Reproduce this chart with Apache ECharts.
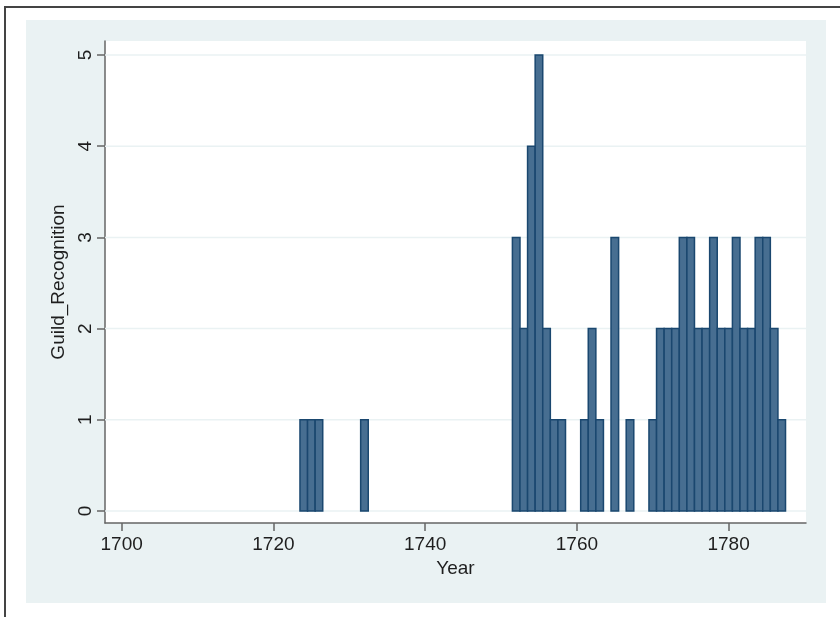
<!DOCTYPE html>
<html>
<head>
<meta charset="utf-8">
<script src="https://cdn.jsdelivr.net/npm/echarts@6/dist/echarts.min.js"></script>
<style>
html,body{margin:0;padding:0;background:#fff;}
#chart{width:840px;height:617px;}
</style>
</head>
<body>
<div id="chart"></div>
<script>
// Data
const years  = [1724,1725,1726,1732,1752,1753,1754,1755,1756,1757,1758,1761,1762,1763,1765,1767,
                1770,1771,1772,1773,1774,1775,1776,1777,1778,1779,1780,1781,1782,1783,1784,1785,1786,1787];
const values = [1,1,1,1,3,2,4,5,2,1,1,1,2,1,3,1,
                1,2,2,2,3,3,2,2,3,2,2,3,2,2,3,3,2,1];
const xTicks = [1700,1720,1740,1760,1780];
const yTicks = [0,1,2,3,4,5];

const FONT = 'Liberation Sans';
const TXT = '#1e1e1e';

const chart = echarts.init(document.getElementById('chart'), null, {renderer:'canvas'});
const data = years.map((y,i)=>[y, values[i]]);

chart.setOption({
  animation:false,
  backgroundColor:'#ffffff',
  graphic:[
    {type:'rect', left:26, top:20, shape:{width:800, height:583}, style:{fill:'#EAF2F3'}, z:-10, silent:true},
    {type:'line', shape:{x1:5, y1:7, x2:5, y2:617}, style:{stroke:'#444', lineWidth:2}, z:-5, silent:true},
    {type:'line', shape:{x1:4, y1:7, x2:840, y2:7}, style:{stroke:'#444', lineWidth:2}, z:-5, silent:true}
  ],
  grid:{left:105, right:34, top:41, bottom:94, show:true, backgroundColor:'#ffffff', borderWidth:0, containLabel:false},
  xAxis:{
    type:'value', min:1697.8, max:1790.2,
    name:'Year', nameLocation:'middle', nameGap:33,
    nameTextStyle:{fontFamily:FONT, fontSize:19, color:TXT},
    axisLine:{show:true, onZero:false, lineStyle:{color:'#666', width:1.5}},
    axisTick:{show:true, length:8, customValues:xTicks, lineStyle:{color:'#666', width:1.5}},
    axisLabel:{customValues:xTicks, formatter:v=>String(v), fontFamily:FONT, fontSize:19, color:TXT, margin:12},
    splitLine:{show:false}
  },
  yAxis:{
    type:'value', min:-0.132, max:5.154,
    name:'Guild_Recognition', nameLocation:'middle', nameGap:32, nameRotate:90,
    nameTextStyle:{fontFamily:FONT, fontSize:19, color:TXT},
    axisLine:{show:true, onZero:false, lineStyle:{color:'#666', width:1.5}},
    axisTick:{show:true, length:8, customValues:yTicks, lineStyle:{color:'#666', width:1.5}},
    axisLabel:{customValues:yTicks, formatter:v=>String(v), rotate:90, fontFamily:FONT, fontSize:19, color:TXT, margin:10},
    splitLine:{show:false}
  },
  series:[
    {
      type:'custom', z:1, silent:true,
      data:yTicks.map(v=>[v]),
      encode:{y:0},
      renderItem:function(params, api){
        const v = api.value(0);
        const cs = params.coordSys;
        const y = api.coord([1700, v])[1];
        return {
          type:'line',
          shape:{x1:cs.x, y1:y, x2:cs.x+cs.width, y2:y},
          style:{stroke:'#EAF2F3', lineWidth:1.5}
        };
      }
    },
    {
      type:'custom', z:3,
      data:data,
      renderItem:function(params, api){
        const x = api.value(0), y = api.value(1);
        const p0 = api.coord([x-0.5, y]);
        const p1 = api.coord([x+0.5, 0]);
        return {
          type:'rect',
          shape:{x:p0[0], y:p0[1], width:p1[0]-p0[0], height:p1[1]-p0[1]},
          style:{fill:'#476E91', stroke:'#1A476F', lineWidth:1.5}
        };
      }
    }
  ]
});
</script>
</body>
</html>
